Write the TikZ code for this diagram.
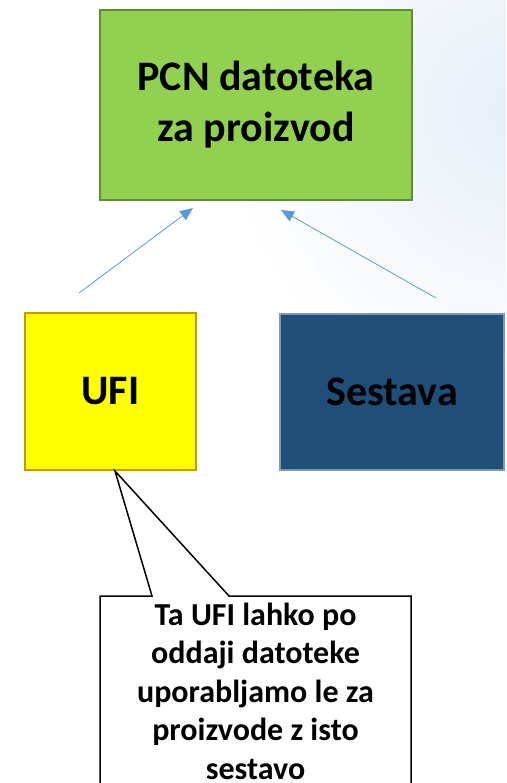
\documentclass[tikz,border=0pt]{standalone}
\usepackage{fontspec}
\setmainfont{Carlito}
\usetikzlibrary{arrows.meta}

\definecolor{pcngreen}{HTML}{92D050}
\definecolor{pcnedge}{HTML}{5E8E35}
\definecolor{ufiyellow}{HTML}{FFFF00}
\definecolor{ufiedge}{HTML}{C49A00}
\definecolor{sestblue}{HTML}{1F4E79}
\definecolor{sestedge}{HTML}{7F97B5}
\definecolor{arrblue}{HTML}{5B9BD5}
\definecolor{bgblue}{HTML}{E6EEF7}

\tikzset{
  box/.style={draw, line width=1.5pt, font=\fontsize{42}{51}\bfseries, align=center, inner sep=0pt},
  link/.style={arrblue, line width=0.8pt, -{Triangle[length=13pt,width=11pt]}},
}

\begin{document}
\begin{tikzpicture}[x=1pt,y=-1pt]
   \useasboundingbox (0,0) rectangle (506,783);
   \clip (0,0) rectangle (506,783);
   % background glow
   \shade[inner color=bgblue, outer color=white] (520,110) circle (300);

   \node[box, draw=pcnedge, fill=pcngreen, minimum width=312pt, minimum height=190pt]
                                              (pcn)  at (256,105)     {PCN datoteka\\za proizvod} ; %
   \node[box, draw=ufiedge, fill=ufiyellow, minimum width=171pt, minimum height=157pt]
                                              (ufi)  at (110.5,391.5) {UFI} ; %
   \node[box, draw=sestedge, fill=sestblue, minimum width=224pt, minimum height=156pt]
                                              (sest) at (392,392)     {Sestava} ; %

   \coordinate (ufitop)  at (79,293) ;
   \coordinate (sesttop) at (436,298) ;
   \draw[link] (ufitop)  -- (193,208) ;
   \draw[link] (sesttop) -- (281,210) ;

   % callout
   \coordinate (tip) at (115,471) ;
   \draw[line width=1.5pt, fill=white, line join=miter]
      (100,596) -- (152,596) -- (tip) -- (229,596) -- (411,596) -- (411,800) -- (100,800) -- cycle;
   \node[font=\fontsize{32}{38.5}\bfseries, align=center] (note) at (255.5,691)
      {Ta UFI lahko po\\oddaji datoteke\\uporabljamo le za\\proizvode z isto\\sestavo} ;

\end{tikzpicture}
\end{document}
